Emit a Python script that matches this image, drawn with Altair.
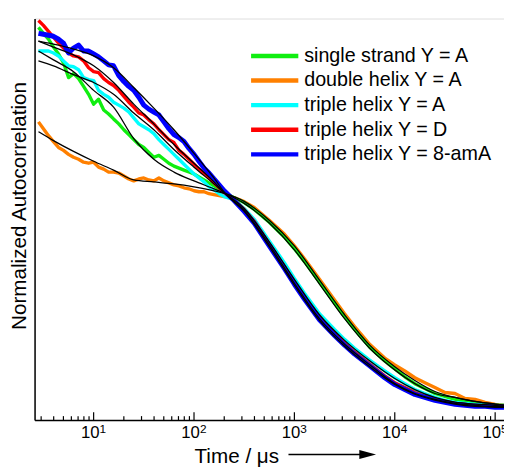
import altair as alt
import pandas as pd

# ---- raw correlation data (time in microseconds, normalized autocorrelation) ----
time_us = [2.82, 3.16, 3.55, 3.98, 4.47, 5.01, 5.62, 6.31, 7.08, 7.94, 8.91, 10, 11.2, 12.6,
           14.1, 15.8, 17.8, 20.0, 22.4, 25.1, 28.2, 31.6, 35.5, 39.8, 44.7, 50.1, 56.2,
           63.1, 70.8, 79.4, 89.1, 100, 112, 126, 141, 158, 178, 200,
           251, 316, 398, 562, 794, 1000, 1259, 1778, 2512, 3162, 3981, 5623, 7943,
           10000, 12589, 15849, 19953, 25119, 31623, 39811, 50119, 63096, 79433, 100000, 125893]

single_strand_A = [0.96, 0.945, 0.93, 0.91, 0.8925, 0.87, 0.8325, 0.8425, 0.83, 0.81, 0.79,
                   0.765, 0.7775, 0.75, 0.74, 0.7275, 0.715, 0.7, 0.6875, 0.675, 0.6625,
                   0.655, 0.6425, 0.63, 0.635, 0.625, 0.615, 0.6075, 0.6025, 0.5975, 0.5925,
                   0.5875, 0.58, 0.5725, 0.565, 0.5575, 0.55, 0.54,
                   0.5275, 0.515, 0.4975, 0.465, 0.4275, 0.3975, 0.365, 0.3125, 0.26, 0.225,
                   0.1925, 0.1475, 0.1125,
                   0.0925, 0.0725, 0.055, 0.0425, 0.03, 0.0225, 0.015, 0.01, 0.005, 0.0025, 0, 0]
double_helix_A = [0.72, 0.7025, 0.685, 0.67, 0.655, 0.6475, 0.6375, 0.63, 0.625, 0.6175, 0.615,
                  0.6175, 0.605, 0.6, 0.5925, 0.5925, 0.59, 0.5825, 0.575, 0.57, 0.575, 0.5775,
                  0.5725, 0.57, 0.5775, 0.57, 0.565, 0.56, 0.5575, 0.5525, 0.55, 0.545, 0.5425,
                  0.5425, 0.5375, 0.535, 0.5325, 0.53,
                  0.5275, 0.5175, 0.5025, 0.47, 0.435, 0.405, 0.3725, 0.32, 0.2675, 0.2325,
                  0.2, 0.155, 0.12,
                  0.1025, 0.0875, 0.07, 0.0575, 0.045, 0.0325, 0.03, 0.0175, 0.015, 0.0075, 0.0025, 0]
triple_helix_A = [0.9, 0.9, 0.9, 0.895, 0.8875, 0.875, 0.8625, 0.86, 0.8525, 0.8325, 0.8275,
                  0.825, 0.8, 0.79, 0.7825, 0.77, 0.7625, 0.755, 0.745, 0.73, 0.715, 0.7075,
                  0.7, 0.69, 0.675, 0.6625, 0.65, 0.6375, 0.625, 0.6125, 0.6, 0.5875, 0.5775,
                  0.5675, 0.555, 0.5475, 0.5375, 0.53,
                  0.5225, 0.5, 0.4725, 0.4175, 0.3625, 0.3225, 0.285, 0.2325, 0.1925, 0.1675,
                  0.145, 0.115, 0.0875,
                  0.07, 0.055, 0.04, 0.03, 0.02, 0.0125, 0.0075, 0.005, 0.0025, 0, 0, 0]
triple_helix_D = [0.9775, 0.965, 0.95, 0.935, 0.92, 0.9075, 0.895, 0.8875, 0.885, 0.875, 0.8575,
                  0.8475, 0.845, 0.83, 0.82, 0.8125, 0.8, 0.785, 0.77, 0.7575, 0.7425, 0.7375,
                  0.725, 0.715, 0.7, 0.6875, 0.675, 0.6675, 0.6475, 0.6375, 0.625, 0.6125, 0.6,
                  0.59, 0.5775, 0.565, 0.5525, 0.54,
                  0.5225, 0.4975, 0.4675, 0.41, 0.3525, 0.3125, 0.275, 0.2225, 0.1825, 0.1575,
                  0.135, 0.105, 0.075,
                  0.0575, 0.045, 0.0325, 0.0225, 0.015, 0.01, 0.005, 0.0025, 0, -0.0025, -0.0025, -0.0025]
triple_helix_8amA = [0.945, 0.9425, 0.94, 0.9375, 0.93, 0.92, 0.895, 0.9075, 0.915, 0.9, 0.9,
                     0.8925, 0.885, 0.875, 0.865, 0.8625, 0.8375, 0.8225, 0.81, 0.8, 0.7825,
                     0.7625, 0.7525, 0.745, 0.7375, 0.72, 0.7025, 0.6875, 0.68, 0.67, 0.6525,
                     0.6375, 0.62, 0.6025, 0.59, 0.575, 0.56, 0.545,
                     0.52, 0.4925, 0.4625, 0.405, 0.3475, 0.3075, 0.27, 0.2175, 0.1775, 0.1525,
                     0.13, 0.1, 0.07,
                     0.0525, 0.04, 0.0275, 0.02, 0.0125, 0.0075, 0.0025, 0, -0.0025, -0.0025, -0.005, -0.005]

# ---- fitted curves ----
fit_time_us = [2.82, 3.98, 6.31, 10, 15.8, 25.1, 39.8, 63.1, 100, 158, 206, 316, 562,
               1000, 1778, 3162, 5623, 10000, 15849, 25119, 39811, 63096, 100000, 125893]
fit_single_strand_A = [0.9, 0.8775, 0.8475, 0.8, 0.7575, 0.6775, 0.625, 0.5925, 0.57, 0.55,
                       0.5375, 0.513, 0.463, 0.395, 0.308, 0.220, 0.145, 0.090, 0.055, 0.030,
                       0.020, 0.010, 0.003, 0.000]
fit_double_helix_A = [0.695, 0.6725, 0.645, 0.62, 0.5975, 0.5725, 0.5675, 0.5625, 0.555, 0.545,
                      0.5375, 0.518, 0.470, 0.405, 0.318, 0.230, 0.153, 0.098, 0.063, 0.035,
                      0.020, 0.010, 0.003, 0.000]
fit_triple_helix_A = [0.875, 0.8625, 0.84, 0.82, 0.79, 0.7425, 0.7, 0.65, 0.605, 0.5625,
                      0.5375, 0.500, 0.415, 0.320, 0.230, 0.165, 0.113, 0.068, 0.040, 0.020,
                      0.008, 0.003, 0.000, -0.003]
fit_triple_helix_D = [0.925, 0.91, 0.89, 0.8625, 0.82, 0.765, 0.715, 0.6625, 0.615, 0.5675,
                      0.5375, 0.495, 0.408, 0.310, 0.220, 0.155, 0.103, 0.055, 0.030, 0.015,
                      0.005, 0.000, -0.003, -0.003]
fit_triple_helix_8amA = [0.925, 0.9175, 0.905, 0.8875, 0.8575, 0.8075, 0.755, 0.7, 0.64, 0.5775,
                         0.5375, 0.493, 0.403, 0.305, 0.215, 0.150, 0.098, 0.053, 0.028, 0.013,
                         0.003, -0.003, -0.005, -0.005]

series_names = ["single strand Y = A", "double helix Y = A", "triple helix Y = A",
                "triple helix Y = D", "triple helix Y = 8-amA"]
series_colors = ["#10ee10", "#ff8000", "#00ffff", "#ff0000", "#0000ff"]

major_ticks = [10, 100, 1000, 10000, 100000]
tick_exponents = ["1", "2", "3", "4", "5"]
minor_ticks = [3, 4, 5, 6, 7, 8, 9,
               20, 30, 40, 50, 60, 70, 80, 90,
               200, 300, 400, 500, 600, 700, 800, 900,
               2000, 3000, 4000, 5000, 6000, 7000, 8000, 9000,
               20000, 30000, 40000, 50000, 60000, 70000, 80000, 90000]

raw_values = [single_strand_A, double_helix_A, triple_helix_A, triple_helix_D, triple_helix_8amA]
fit_values = [fit_single_strand_A, fit_double_helix_A, fit_triple_helix_A,
              fit_triple_helix_D, fit_triple_helix_8amA]

raw_df = pd.concat([pd.DataFrame({"time": time_us, "value": v, "series": n})
                    for n, v in zip(series_names, raw_values)], ignore_index=True)
fit_df = pd.concat([pd.DataFrame({"time": fit_time_us, "value": v, "fit": n})
                    for n, v in zip(series_names, fit_values)], ignore_index=True)

W, H = 477, 408
FONT = "Liberation Sans"

x_scale = alt.Scale(type="log", domain=[2.58, 122500], nice=False)
y_scale = alt.Scale(domain=[-0.0375, 0.9825], nice=False, zero=False)

x_axis = alt.Axis(values=major_ticks, ticks=False, grid=False, domainColor="black",
                  domainWidth=1.5, labelFont=FONT, labelFontSize=17, labelColor="black",
                  labelPadding=5, labelFlush=False, labelOverlap=False, labelOffset=-4,
                  labelExpr="'10'",
                  title="Time / μs", titleFont=FONT, titleFontSize=21, titleFontWeight="normal",
                  titleColor="black", titleX=205, titleY=43, titleBaseline="alphabetic",
                  titleAnchor="start", titleAlign="center")
y_axis = alt.Axis(ticks=False, labels=False, grid=False, domainColor="black", domainWidth=1.5,
                  title="Normalized Autocorrelation", titleFont=FONT, titleFontSize=21,
                  titleFontWeight="normal", titleColor="black", titlePadding=5, titleY=190)

color_scale = alt.Scale(domain=series_names, range=series_colors)
legend = alt.Legend(title=None, orient="none", legendX=234, legendY=28,
                    symbolType="M-6,0L6,0", symbolSize=64, symbolStrokeWidth=4.5,
                    labelFont=FONT, labelFontSize=20, labelColor="black", labelOffset=20,
                    rowPadding=5, padding=0, labelLimit=400)

draw_order = ["double helix Y = A", "single strand Y = A", "triple helix Y = A",
              "triple helix Y = D", "triple helix Y = 8-amA"]
widths = {"triple helix Y = 8-amA": 5}

layers = []
for i, name in enumerate(draw_order):
    if i == 0:
        enc_x = alt.X("time:Q", scale=x_scale, axis=x_axis)
        enc_y = alt.Y("value:Q", scale=y_scale, axis=y_axis)
    else:
        enc_x = alt.X("time:Q", scale=x_scale)
        enc_y = alt.Y("value:Q", scale=y_scale)
    layers.append(
        alt.Chart(raw_df[raw_df["series"] == name])
        .mark_line(strokeWidth=widths.get(name, 3.4), strokeJoin="round")
        .encode(x=enc_x, y=enc_y,
                color=alt.Color("series:N", scale=color_scale, legend=legend))
    )

fits = alt.Chart(fit_df).mark_line(color="black", strokeWidth=1.3, interpolate="monotone").encode(
    x=alt.X("time:Q", scale=x_scale),
    y=alt.Y("value:Q", scale=y_scale), detail="fit:N")

major = alt.Chart(pd.DataFrame({"time": major_ticks})).mark_rule(color="black", strokeWidth=1.2).encode(
    x=alt.X("time:Q", scale=x_scale), y=alt.value(H), y2=alt.value(H - 8))
minor = alt.Chart(pd.DataFrame({"time": minor_ticks})).mark_rule(color="black", strokeWidth=1.2).encode(
    x=alt.X("time:Q", scale=x_scale), y=alt.value(H), y2=alt.value(H - 4))

exponents = alt.Chart(pd.DataFrame({"time": major_ticks, "exp": tick_exponents})).mark_text(
    font=FONT, fontSize=12, color="black", align="left", baseline="top", dx=6
).encode(x=alt.X("time:Q", scale=x_scale), y=alt.value(H + 4), text="exp:N")

one = pd.DataFrame({"a": [0]})
arrow_line = alt.Chart(one).mark_rule(color="black", strokeWidth=1.5).encode(
    x=alt.value(258), x2=alt.value(333), y=alt.value(443))
arrow_head = alt.Chart(one).mark_point(shape="M-1,-0.55L1,0L-1,0.55Z", filled=True, color="black",
                                       size=289, opacity=1).encode(
    x=alt.value(338.5), y=alt.value(443))

chart = alt.layer(*layers, fits, major, minor, exponents, arrow_line, arrow_head).properties(
    width=W, height=H,
    autosize=alt.AutoSizeParams(type="none"),
    padding={"left": 27, "top": 7, "right": 0, "bottom": 45},
).configure_view(stroke=None).configure(background="white")

chart.save("out.html", embed_options={"renderer": "svg", "actions": False})
